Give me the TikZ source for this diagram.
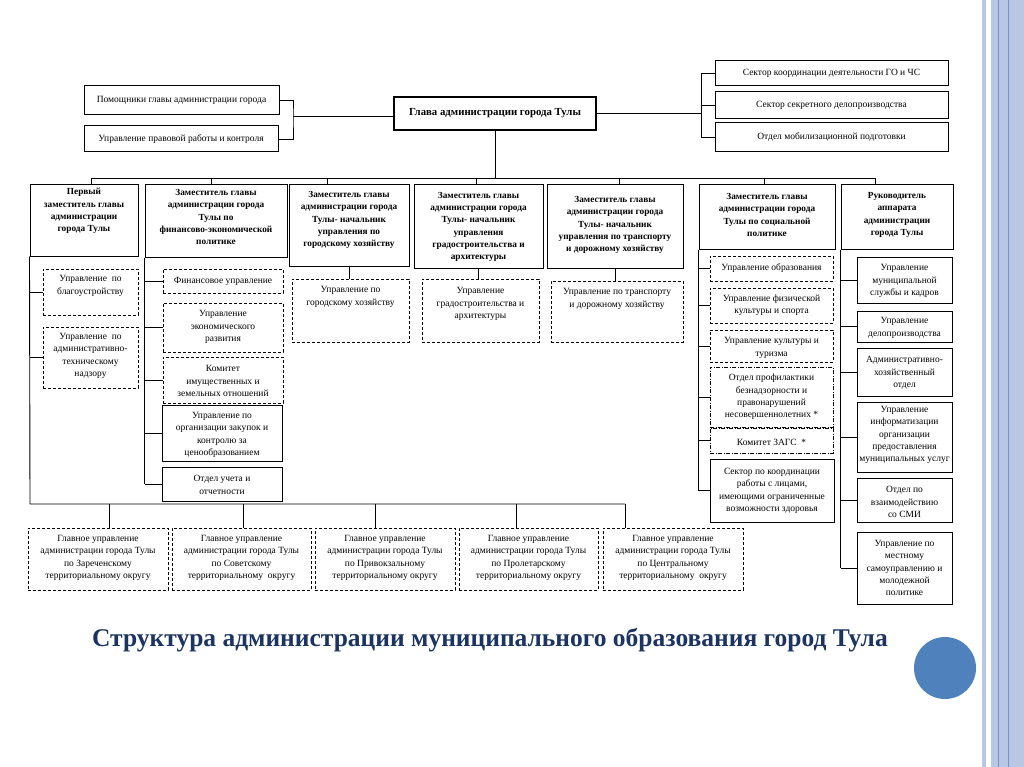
\documentclass[tikz,border=0pt]{standalone}
\usepackage{fontspec}
\setmainfont{Liberation Serif}
\usetikzlibrary{fit}
\definecolor{navy}{RGB}{28,52,96}
\definecolor{stripe}{RGB}{184,199,228}
\definecolor{stripedk}{RGB}{120,145,195}
\definecolor{circ}{RGB}{79,129,189}
\tikzset{
  sbox/.style={draw, line width=1pt, inner sep=0pt},
  hbox/.style={draw, line width=2.2pt, inner sep=0pt},
  dbox/.style={draw, line width=1pt, dash pattern=on 3pt off 2pt, inner sep=0pt},
  ddbox/.style={draw, line width=1pt, dash pattern=on 4pt off 1.5pt on 1pt off 1.5pt, inner sep=0pt},
  txt/.style={align=center, font=\fontsize{9.5}{12.3}\selectfont, inner sep=0pt},
  btxt/.style={align=center, font=\bfseries\fontsize{9.3}{12.3}\selectfont, inner sep=0pt},
  htxt/.style={align=center, font=\bfseries\fontsize{10.8}{13}\selectfont, inner sep=0pt},
  conn/.style={line width=0.9pt},
}
% #1 box style, #2 text style, #3 name, #4 x1, #5 y1, #6 x2, #7 y2, #8 text centre y, #9 text
\newcommand\Bx[9]{%
  \node[#1, fit={(#4,#5) (#6,#7)}] (#3) {};
  \node[#2] (#3t) at ({(#4+#6)/2},#8) {#9};
}
\begin{document}
\begin{tikzpicture}[x=1pt,y=-1pt]
\useasboundingbox (0,0) rectangle (1024,767);
\fill[white] (0,0) rectangle (1024,767);
% slide decoration
\fill[stripe] (982,0) rectangle (986,767);
\fill[stripe] (991,0) rectangle (1024,767);
\draw[stripedk, line width=0.8pt] (998,0) -- (998,767);
\draw[stripedk, line width=0.8pt] (1008,0) -- (1008,767);
\fill[circ] (945,668) circle (31);
\node[font=\bfseries\fontsize{25.5}{30}\selectfont, text=navy, inner sep=0pt] (title) at (490,640) {Структура администрации муниципального образования город Тула};

% top level
\Bx{sbox}{txt}{pom}{84}{86}{279}{115}{100}{Помощники главы администрации города}
\Bx{sbox}{txt}{prav}{84}{126}{278}{152}{139}{Управление правовой работы и контроля}
\Bx{hbox}{htxt}{head}{394}{97}{596}{130}{113}{Глава администрации города Тулы}
\Bx{sbox}{txt}{go}{715}{61}{948}{86}{73}{Сектор координации деятельности ГО и ЧС}
\Bx{sbox}{txt}{sec}{715}{92}{948}{119}{105}{Сектор секретного делопроизводства}
\Bx{sbox}{txt}{mob}{715}{123}{948}{152}{137}{Отдел мобилизационной подготовки}

% deputies
\Bx{sbox}{btxt}{d1}{30}{185}{138}{256}{211}{Первый\\заместитель главы\\администрации\\города Тулы}
\Bx{sbox}{btxt}{d2}{145}{185}{287}{257}{217}{Заместитель главы\\администрации города\\Тулы по\\финансово-экономической\\политике}
\Bx{sbox}{btxt}{d3}{289}{185}{409}{266}{220}{Заместитель главы\\администрации города\\Тулы- начальник\\управления по\\городскому хозяйству}
\Bx{sbox}{btxt}{d4}{414}{185}{543}{268}{227}{Заместитель главы\\администрации города\\Тулы- начальник\\управления\\градостроительства и\\архитектуры}
\Bx{sbox}{btxt}{d5}{547}{185}{683}{268}{225}{Заместитель главы\\администрации города\\Тулы- начальник\\управления по транспорту\\и дорожному хозяйству}
\Bx{sbox}{btxt}{d6}{699}{185}{835}{249}{215}{Заместитель главы\\администрации города\\Тулы по социальной\\политике}
\Bx{sbox}{btxt}{d7}{841}{185}{953}{249}{215}{Руководитель\\аппарата\\администрации\\города Тулы}

% column 1
\Bx{dbox}{txt}{blag}{43}{269}{138}{315}{286}{Управление\ \ по\\благоустройству}
\Bx{dbox}{txt}{admn}{43}{327}{138}{388}{356}{Управление\ \ по\\административно-\\техническому\\надзору}
% column 2
\Bx{dbox}{txt}{fin}{163}{269}{283}{293}{281}{Финансовое управление}
\Bx{dbox}{txt}{econ}{163}{303}{283}{352}{327}{Управление\\экономического\\развития}
\Bx{dbox}{txt}{kom}{163}{357}{283}{403}{381}{Комитет\\имущественных и\\земельных отношений}
\Bx{sbox}{txt}{zak}{162}{405}{282}{461}{435}{Управление по\\организации закупок и\\контролю за\\ценообразованием}
\Bx{sbox}{txt}{otd}{162}{467}{282}{501}{485}{Отдел учета и\\отчетности}
% columns 3-5
\Bx{dbox}{txt}{gor}{292}{279}{409}{342}{297}{Управление по\\городскому хозяйству}
\Bx{dbox}{txt}{grad}{422}{279}{539}{342}{304}{Управление\\градостроительства и\\архитектуры}
\Bx{dbox}{txt}{trans}{551}{281}{683}{342}{299}{Управление по транспорту\\и дорожному хозяйству}
% column 6
\Bx{dbox}{txt}{obr}{710}{256}{833}{281}{268}{Управление образования}
\Bx{dbox}{txt}{fiz}{710}{288}{833}{323}{305}{Управление физической\\культуры и спорта}
\Bx{dbox}{txt}{kult}{710}{330}{833}{362}{348}{Управление культуры и\\туризма}
\Bx{ddbox}{txt}{prof}{710}{367}{833}{427}{397}{Отдел профилактики\\безнадзорности и\\правонарушений\\несовершеннолетних *}
\Bx{ddbox}{txt}{zags}{710}{428}{833}{453}{442}{Комитет ЗАГС\ \ *}
\Bx{sbox}{txt}{sekt}{710}{459}{834}{522}{491}{Сектор по координации\\работы с лицами,\\имеющими ограниченные\\возможности здоровья}
% column 7
\Bx{sbox}{txt}{kadr}{857}{257}{952}{303}{281}{Управление\\муниципальной\\службы и кадров}
\Bx{sbox}{txt}{delo}{857}{311}{952}{342}{328}{Управление\\делопроизводства}
\Bx{sbox}{txt}{ahd}{857}{348}{952}{396}{373}{Административно-\\хозяйственный\\отдел}
\Bx{sbox}{txt}{inf}{857}{402}{952}{472}{435}{Управление\\информатизации\\организации\\предоставления\\муниципальных услуг}
\Bx{sbox}{txt}{smi}{857}{478}{952}{522}{502}{Отдел по\\взаимодействию\\со СМИ}
\Bx{sbox}{txt}{mest}{857}{532}{952}{604}{568}{Управление по\\местному\\самоуправлению и\\молодежной\\политике}
% territorial
\Bx{dbox}{txt}{ter1}{28}{528}{168}{590}{558}{Главное управление\\администрации города Тулы\\по Зареченскому\\территориальному округу}
\Bx{dbox}{txt}{ter2}{172}{528}{311}{590}{558}{Главное управление\\администрации города Тулы\\по Советскому\\территориальному\ \ округу}
\Bx{dbox}{txt}{ter3}{315}{528}{455}{590}{558}{Главное управление\\администрации города Тулы\\по Привокзальному\\территориальному округу}
\Bx{dbox}{txt}{ter4}{459}{528}{598}{590}{558}{Главное управление\\администрации города Тулы\\по Пролетарскому\\территориальному округу}
\Bx{dbox}{txt}{ter5}{603}{528}{743}{590}{558}{Главное управление\\администрации города Тулы\\по Центральному\\территориальному\ \ округу}

% connectors: top
\coordinate (lj) at (293,116);
\draw[conn] (pom.east) -| (lj) |- (prav.east);
\draw[conn] (lj) -- (lj -| head.west);
\coordinate (rj) at (701,113.5);
\draw[conn] (head.east) -- (rj);
\draw[conn] (go.west) -| (rj);
\draw[conn] (sec.west) -| (rj);
\draw[conn] (mob.west) -| (rj);
% deputies bus
\coordinate (bus) at (495,178);
\draw[conn] (head.south) -- (bus);
\coordinate (tp1) at (91,178);
\coordinate (tp2) at (211,178);
\coordinate (tp3) at (327,178);
\coordinate (tp4) at (476,178);
\coordinate (tp5) at (619,178);
\coordinate (tp6) at (764,178);
\coordinate (tp7) at (875,178);
\draw[conn] (tp1) -- (tp7);
\draw[conn] (tp1) -- (tp1 |- d1.north);
\draw[conn] (tp2) -- (tp2 |- d2.north);
\draw[conn] (tp3) -- (tp3 |- d3.north);
\draw[conn] (tp4) -- (tp4 |- d4.north);
\draw[conn] (tp5) -- (tp5 |- d5.north);
\draw[conn] (tp6) -- (tp6 |- d6.north);
\draw[conn] (tp7) -- (tp7 |- d7.north);
% column 1 and bottom bus
\coordinate (bbL) at (30,504);
\coordinate (bbR) at (625,504);
\draw[conn] (d1.south west) -- (bbL) -- (bbR);
\draw[conn] (blag.west) -- (blag.west -| bbL);
\draw[conn] (admn.west) -- (admn.west -| bbL);
\coordinate (bt1) at (109,504);
\coordinate (bt2) at (243,504);
\coordinate (bt3) at (375,504);
\coordinate (bt4) at (516,504);
\draw[conn] (bt1) -- (bt1 |- ter1.north);
\draw[conn] (bt2) -- (bt2 |- ter2.north);
\draw[conn] (bt3) -- (bt3 |- ter3.north);
\draw[conn] (bt4) -- (bt4 |- ter4.north);
\draw[conn] (bbR) -- (bbR |- ter5.north);
% column 2
\draw[conn] (d2.south west) -- (d2.south west |- otd.west);
\foreach \n in {fin,econ,kom,zak,otd} \draw[conn] (\n.west) -- (\n.west -| d2.south west);
% columns 3-5
\draw[conn] (d3.south) -- (d3.south |- gor.north);
\draw[conn] (d4.south) -- (d4.south |- grad.north);
\draw[conn] (d5.south) -- (d5.south |- trans.north);
% column 6
\draw[conn] (d6.south west) -- (d6.south west |- sekt.west);
\foreach \n in {obr,fiz,kult,prof,zags,sekt} \draw[conn] (\n.west) -- (\n.west -| d6.south west);
% column 7
\draw[conn] (d7.south west) -- (d7.south west |- mest.west);
\foreach \n in {kadr,delo,ahd,inf,smi,mest} \draw[conn] (\n.west) -- (\n.west -| d7.south west);
\end{tikzpicture}
\end{document}
